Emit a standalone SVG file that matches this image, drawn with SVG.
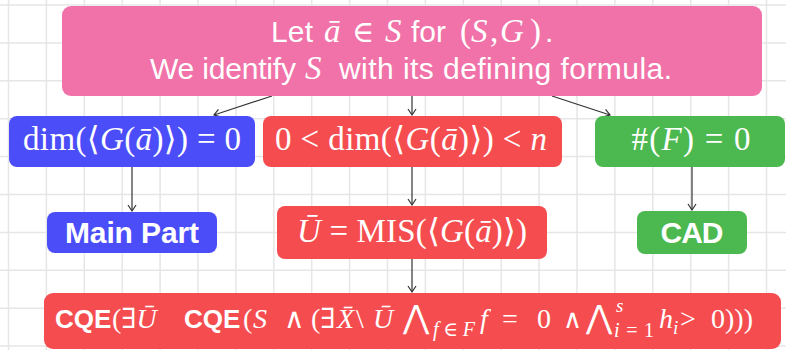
<svg xmlns="http://www.w3.org/2000/svg" width="786" height="350" viewBox="0 0 786 350">
<defs>
<style>
.grid{stroke:#e6e6e6;stroke-width:1.5;fill:none}
.sans{font-family:"Liberation Sans",Arial,sans-serif;fill:#fff}
.b{font-weight:bold;font-family:"Liberation Sans",Arial,sans-serif}
.m{font-family:"Liberation Serif","DejaVu Serif",serif;fill:#fff}
.i{font-style:italic;font-family:"Liberation Serif","DejaVu Serif",serif}
.u{font-style:normal;font-family:"Liberation Serif","DejaVu Serif",serif}
.conn{stroke:#333;stroke-width:1.2;fill:none;marker-end:url(#arr)}
.pink{fill:#f072a8}
.blue{fill:#4b4df8}
.red{fill:#f54d4f}
.green{fill:#4cb850}
</style>
<marker id="arr" markerUnits="userSpaceOnUse" markerWidth="10" markerHeight="10" refX="8" refY="5" orient="auto"><path d="M2,1 L8,5 L2,9" fill="none" stroke="#333" stroke-width="1.2"/></marker>
</defs>
<rect width="786" height="350" fill="#fff"/>
<path class="grid" d="M8.5,0V350M46.4,0V350M84.3,0V350M122.2,0V350M160.1,0V350M198,0V350M235.9,0V350M273.8,0V350M311.7,0V350M349.6,0V350M387.5,0V350M425.4,0V350M463.3,0V350M501.2,0V350M539.1,0V350M577,0V350M614.9,0V350M652.8,0V350M690.7,0V350M728.6,0V350M766.5,0V350M0,5H786M0,42.9H786M0,80.8H786M0,118.7H786M0,156.6H786M0,194.5H786M0,232.4H786M0,270.3H786M0,308.2H786M0,346.1H786"/>

<g id="connectors">
<line class="conn" x1="272" y1="96" x2="214" y2="115"/>
<line class="conn" x1="412" y1="96" x2="412" y2="115"/>
<line class="conn" x1="552" y1="96" x2="610" y2="115"/>
<line class="conn" x1="132" y1="167" x2="132" y2="211"/>
<line class="conn" x1="412" y1="167" x2="412" y2="205"/>
<line class="conn" x1="692" y1="167" x2="692" y2="210"/>
<line class="conn" x1="412" y1="259" x2="412" y2="292"/>
</g>

<g id="start">
<rect class="pink" x="62" y="6" width="700" height="90" rx="9"/>
<text class="sans" y="42" font-size="30"><tspan x="271" textLength="42">Let</tspan><tspan x="324" class="i" font-size="33">ā</tspan><tspan x="352" class="u" font-size="30">∈</tspan><tspan x="385" class="i" font-size="33">S</tspan><tspan x="411">for</tspan><tspan x="460" class="u" font-size="33">(</tspan><tspan x="471" class="i" font-size="33">S</tspan><tspan x="490" class="u" font-size="33">,</tspan><tspan x="500" class="i" font-size="33">G</tspan><tspan x="530" class="u" font-size="33">)</tspan><tspan x="545">.</tspan></text>
<text class="sans" y="79" font-size="30"><tspan x="150" textLength="146">We identify</tspan><tspan x="305" class="i" font-size="33">S</tspan><tspan x="339" textLength="333">with its defining formula.</tspan></text>
</g>

<g id="dim0">
<rect class="blue" x="9" y="116" width="246" height="51" rx="8"/>
<text class="m" x="132" y="150" font-size="33" text-anchor="middle" textLength="218">dim(⟨<tspan class="i">G</tspan>(<tspan class="i">ā</tspan>)⟩) = 0</text>
</g>

<g id="dimmid">
<rect class="red" x="263" y="116" width="299" height="51" rx="8"/>
<text class="m" x="411" y="150" font-size="33" text-anchor="middle" textLength="272">0 &lt; dim(⟨<tspan class="i">G</tspan>(<tspan class="i">ā</tspan>)⟩) &lt; <tspan class="i">n</tspan></text>
</g>

<g id="nof">
<rect class="green" x="595" y="116" width="190" height="51" rx="8"/>
<text class="m" x="691" y="150" font-size="33" text-anchor="middle" textLength="119">#(<tspan class="i">F</tspan>) = 0</text>
</g>

<g id="mainpart">
<rect class="blue" x="47" y="212" width="170" height="41" rx="8"/>
<text class="sans b" x="132" y="243" font-size="30" text-anchor="middle" textLength="134">Main Part</text>
</g>

<g id="mis">
<rect class="red" x="277" y="206" width="270" height="53" rx="8"/>
<text class="m" x="412" y="242" font-size="33" text-anchor="middle" textLength="230"><tspan class="i">Ū</tspan> = MIS(⟨<tspan class="i">G</tspan>(<tspan class="i">ā</tspan>)⟩)</text>
</g>

<g id="cad">
<rect class="green" x="637" y="211" width="110" height="43" rx="8"/>
<text class="sans b" x="692" y="243" font-size="30" text-anchor="middle" textLength="63">CAD</text>
</g>

<g id="cqe">
<rect class="red" x="44" y="293" width="737" height="56" rx="9"/>
<text class="m" y="328" font-size="28"><tspan x="55" class="b" font-size="26">CQE</tspan><tspan x="112">(∃</tspan><tspan class="i">Ū</tspan><tspan x="184" class="b" font-size="26">CQE</tspan><tspan x="243">(</tspan><tspan x="253" class="i">S</tspan><tspan x="284">∧</tspan><tspan x="311">(∃</tspan><tspan x="337" class="i">X̄</tspan><tspan x="356">\</tspan><tspan x="373" class="i">Ū</tspan><tspan x="403" font-size="32">⋀</tspan><tspan x="480" class="i">f</tspan><tspan x="502">=</tspan><tspan x="537">0</tspan><tspan x="563" font-size="26">∧</tspan><tspan x="586" font-size="32">⋀</tspan><tspan x="659" class="i">h</tspan><tspan x="680">&gt;</tspan><tspan x="711">0)))</tspan></text>
<text class="m i" x="433" y="336" font-size="20" textLength="42">f<tspan class="u">∈</tspan>F</text>
<text class="m i" x="616" y="312" font-size="19">s</text>
<text class="m" x="614" y="337" font-size="20" textLength="40"><tspan class="i">i</tspan>=1</text>
<text class="m i" x="673" y="334" font-size="19">i</text>
</g>
</svg>
